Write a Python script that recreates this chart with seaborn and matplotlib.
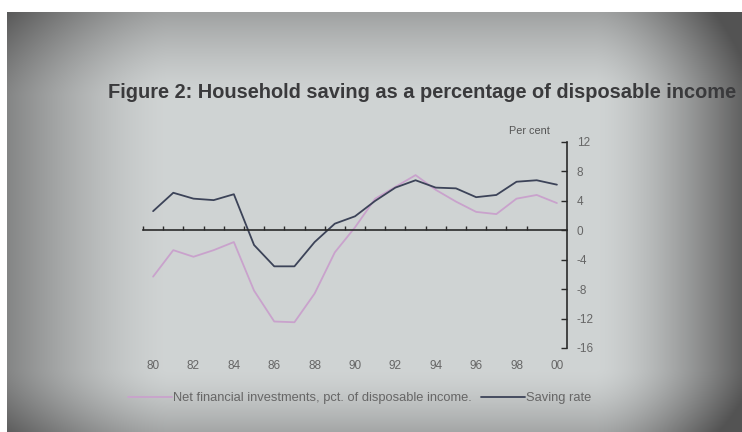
import numpy as np
import pandas as pd
import matplotlib
matplotlib.use("Agg")
import matplotlib.pyplot as plt
import seaborn as sns

# ---- data ----
years = list(range(1980, 2001))
saving_rate = [2.6, 5.1, 4.3, 4.1, 4.9, -2.0, -4.9, -4.9, -1.6, 0.9, 1.9,
               4.0, 5.8, 6.8, 5.8, 5.7, 4.5, 4.8, 6.6, 6.8, 6.2]
net_fin_inv = [-6.3, -2.7, -3.6, -2.7, -1.6, -8.2, -12.4, -12.5, -8.6, -3.0, 0.4,
               4.3, 5.9, 7.5, 5.5, 3.9, 2.5, 2.2, 4.3, 4.8, 3.7]
series_names = ["Net financial investments, pct. of disposable income.", "Saving rate"]
year_ticks = list(range(1980, 2001, 2))
year_labels = ["80", "82", "84", "86", "88", "90", "92", "94", "96", "98", "00"]
y_ticks = [-16, -12, -8, -4, 0, 4, 8, 12]
title = "Figure 2: Household saving as a percentage of disposable income"
unit_label = "Per cent"

df = pd.DataFrame({
    "year": years * 2,
    "value": net_fin_inv + saving_rate,
    "series": [series_names[0]] * len(years) + [series_names[1]] * len(years),
})

sns.set_theme(style="white")
plt.rcParams["font.family"] = ["Liberation Sans", "DejaVu Sans"]

W, H = 742, 432
fig = plt.figure(figsize=(W / 100, H / 100), dpi=100)
fig.patch.set_facecolor("white")

# ---- photo-like background (vignette) ----
bg = fig.add_axes([7 / W, 0, 1 - 7 / W, 1 - 12 / H], zorder=-10)
ny, nx = 420, 735
u = np.linspace(0, 1, nx)[None, :]
v = np.linspace(0, 1, ny)[:, None]
f = (1
     - 0.48 * np.clip((u - 0.80) / 0.20, 0, 1) ** 1.6
     - 0.32 * np.clip((0.22 - u) / 0.22, 0, 1) ** 1.5
     - 0.20 * np.clip((0.20 - v) / 0.20, 0, 1) ** 1.4
     - 0.18 * np.clip((v - 0.85) / 0.15, 0, 1) ** 1.5)
f = np.clip(f, 0.45, 1)
base = np.array([0.815, 0.830, 0.830])
tint = np.array([0.80, 0.77, 0.77])
mixw = np.clip(1 - f, 0, 1)[..., None]
col = (base * (1 - mixw) + tint * base * mixw) * f[..., None]
bg.imshow(np.clip(col, 0, 1), aspect="auto", interpolation="bilinear")
bg.set_axis_off()

# ---- title & unit ----
fig.text(108 / W, 1 - 92 / H, title, fontsize=14.4, fontweight="bold",
         color="#3a3a3c", va="center", ha="left")
fig.text(550 / W, 1 - 131 / H, unit_label, fontsize=7.8, color="#555555",
         va="center", ha="right")

# ---- main axes ----
ax = fig.add_axes([143 / W, 1 - 348 / H, (567 - 143) / W, (348 - 142) / H])
ax.set_facecolor("none")
palette = {series_names[0]: "#c9a2cc", series_names[1]: "#3c4358"}
sns.lineplot(data=df, x="year", y="value", hue="series", palette=palette,
             linewidth=1.3, ax=ax, legend=True)

ax.set_xlim(1979.5, 2000.5)
ax.set_ylim(-16, 12)
ax.set_xlabel("")
ax.set_ylabel("")

for s in ["left", "top"]:
    ax.spines[s].set_visible(False)
ax.spines["bottom"].set_position(("data", 0))
ax.spines["bottom"].set_color("#2a2a2a")
ax.spines["bottom"].set_linewidth(1.2)
ax.spines["right"].set_color("#2a2a2a")
ax.spines["right"].set_linewidth(1.2)

ax.set_xticks([y - 0.5 for y in years[:-1]])
ax.tick_params(axis="x", direction="in", length=3, width=1, color="#2a2a2a",
               labelbottom=False, bottom=True)
ax.yaxis.tick_right()
ax.set_yticks(y_ticks)
ax.set_yticklabels([str(t) for t in y_ticks])
ax.tick_params(axis="y", direction="in", length=4, width=1, color="#2a2a2a",
               labelsize=8.5, labelcolor="#666666", pad=7, right=True, left=False)

sec = ax.secondary_xaxis(-0.06)
sec.set_xticks(year_ticks)
sec.set_xticklabels(year_labels)
sec.tick_params(length=0, pad=0, labelsize=8.5, labelcolor="#666666")
sec.spines["bottom"].set_visible(False)

# ---- legend ----
handles, labels = ax.get_legend_handles_labels()
ax.get_legend().remove()
fig.legend(handles, labels, loc="center", bbox_to_anchor=(360 / W, 1 - 398 / H),
           ncol=2, frameon=False, fontsize=9.3, handlelength=3.4,
           handletextpad=0.1, columnspacing=0.7, labelcolor="#666666")

fig.savefig("out.png", dpi=100, facecolor=fig.get_facecolor())
